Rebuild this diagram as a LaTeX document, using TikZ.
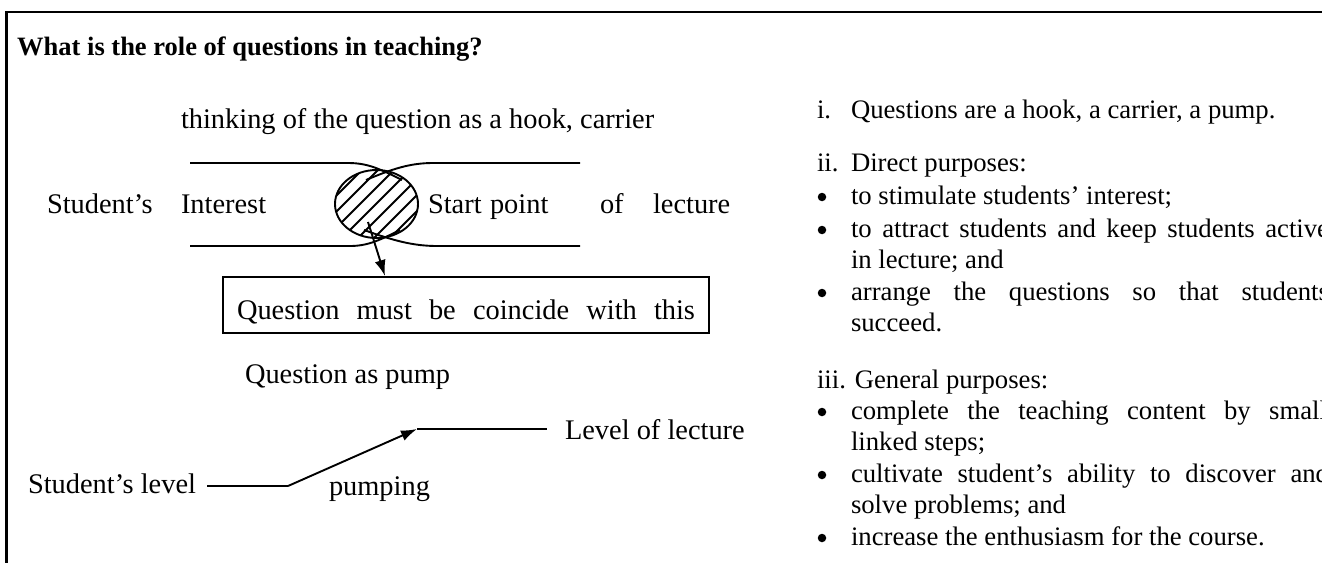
\documentclass[tikz,border=0pt]{standalone}
\usepackage{fontspec}
\setmainfont{Liberation Serif}
\usetikzlibrary{arrows.meta,shapes.geometric}
\newcommand\lftfont{\fontsize{28.4}{33}\selectfont}
\newcommand\rgtfont{\fontsize{26.7}{32}\selectfont}
\newcommand\ttlfont{\fontsize{26.5}{30}\selectfont\bfseries}
\begin{document}
\begin{tikzpicture}[x=1pt,y=-1pt,
  lbl/.style={anchor=base west,inner sep=0pt,outer sep=0pt,font=\lftfont},
  rtx/.style={anchor=base west,inner sep=0pt,outer sep=0pt,font=\rgtfont},
  dot/.style={circle,fill=black,inner sep=0pt,minimum size=8.5pt},
  ln/.style={line width=1.9pt},
  tip/.style={-{Latex[length=16pt,width=11pt]}}]
\useasboundingbox (0,0) rectangle (1322,562);
\clip (0,0) rectangle (1322,562);
% frame
\coordinate (fbl) at (6.5,570);
\coordinate (ftl) at (6.5,12);
\coordinate (ftr) at (1330,12);
\draw[line width=2.2pt] (fbl) -- (ftl) -- (ftr);
\node[anchor=base west,inner sep=0pt,font=\ttlfont] (title) at (17,55) {What is the role of questions in teaching?};
% hook diagram
\node[lbl] (think) at (181,128) {thinking of the question as a hook, carrier};
\node[lbl] (stud) at (47,213) {Student’s};
\node[lbl] (inter) at (181,213) {Interest};
\node[lbl] (start) at (428,213) {Start};
\node[lbl] (point) at (490,213) {point};
\node[lbl] (of) at (600,213) {of};
\node[lbl] (lect) at (653,213) {lecture};
\draw[ln] (190,163) -- (348,163) .. controls (368,163) and (380,169) .. (402,180);
\draw[ln] (580,163) -- (433,163) .. controls (410,163) and (392,169) .. (366,180);
\draw[ln] (190,246) -- (350,246) .. controls (368,246) and (380,240) .. (400,230);
\draw[ln] (580,246) -- (437,246) .. controls (412,246) and (392,240) .. (364,230);
\node[ellipse,draw,ln,minimum width=83pt,minimum height=68pt,inner sep=0pt] (hook) at (376.5,204) {};
\begin{scope}
  \clip (hook.center) ellipse [x radius=41.5, y radius=34];
  \foreach \c in {312,328,...,440} {
    \draw[ln] (\c-45,249) -- (\c+45,159);
  }
\end{scope}
\node[draw,ln,anchor=north west,minimum width=486pt,minimum height=56pt,inner sep=0pt] (box) at (222,276) {};
\node[lbl] (boxtext) at (237,319) {\makebox[458pt][s]{Question must be coincide with this}};
\coordinate (astart) at (368,222);
\coordinate (aend) at (385,276);
\draw[ln,tip] (astart) -- (aend);
% pump diagram
\node[lbl] (pumpq) at (245,383) {Question as pump};
\node[lbl] (slevel) at (28,493) {Student’s level};
\node[lbl] (pumping) at (329,495) {pumping};
\node[lbl] (llect) at (565,439) {Level of lecture};
\coordinate (sl) at (207,486);
\coordinate (bend) at (288,486);
\coordinate (top) at (417,429);
\coordinate (lend) at (547,429);
\draw[ln] (sl) -- (bend);
\draw[ln,tip] (bend) -- (top);
\draw[ln] (top) -- (lend);
% right text
\node[rtx] (r1n) at (817,118) {i.};
\node[rtx] (r1) at (851,118) {Questions are a hook, a carrier, a pump.};
\node[rtx] (r2n) at (817,171) {ii.};
\node[rtx] (r2) at (851,171) {Direct purposes:};
\node[dot] (b1) at (822,197) {};
\node[rtx] (t1) at (851,204) {to stimulate students’ interest;};
\node[dot] (b2) at (822,230) {};
\node[rtx] (t2) at (851,237) {\makebox[478pt][s]{to attract students and keep students active}};
\node[rtx] (t2b) at (851,268) {in lecture; and};
\node[dot] (b3) at (822,293) {};
\node[rtx] (t3) at (851,300) {\makebox[478pt][s]{arrange the questions so that students}};
\node[rtx] (t3b) at (851,331) {succeed.};
\node[rtx] (r3) at (817,388) {iii. General purposes:};
\node[dot] (b4) at (822,412) {};
\node[rtx] (t4) at (851,419) {\makebox[476pt][s]{complete the teaching content by small}};
\node[rtx] (t4b) at (851,450) {linked steps;};
\node[dot] (b5) at (822,475) {};
\node[rtx] (t5) at (851,482) {\makebox[478pt][s]{cultivate student’s ability to discover and}};
\node[rtx] (t5b) at (851,513) {solve problems; and};
\node[dot] (b6) at (822,538) {};
\node[rtx] (t6) at (851,545) {increase the enthusiasm for the course.};
\end{tikzpicture}
\end{document}
